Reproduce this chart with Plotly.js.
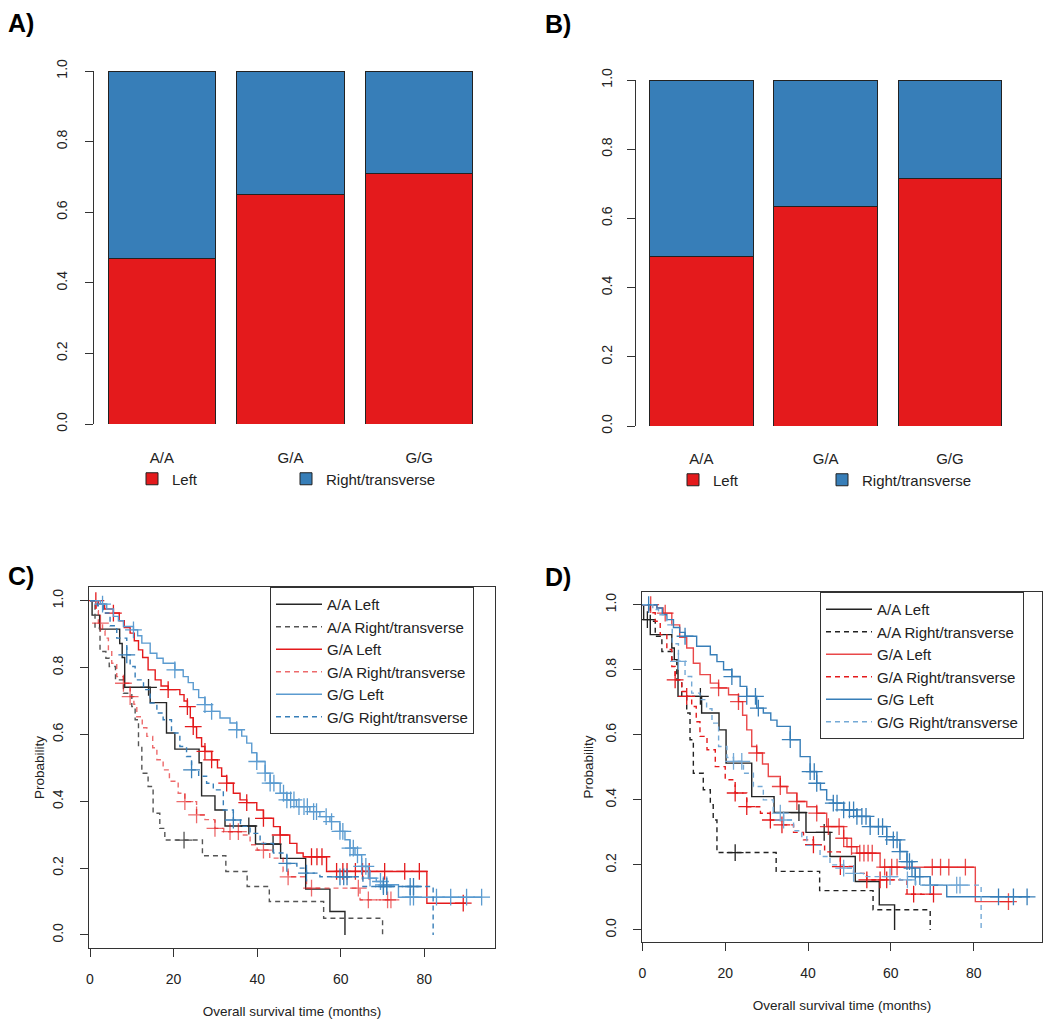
<!DOCTYPE html>
<html>
<head>
<meta charset="utf-8">
<script src="https://cdn.plot.ly/plotly-3.0.1.min.js"></script>
<style>
  html, body { margin: 0; padding: 0; background: #fff; }
  #chart { width: 1050px; height: 1029px; }
</style>
</head>
<body>
<div id="chart"></div>
<script>
// genotype groups on the bar panels
var genotypes = ['A/A', 'G/A', 'G/G'];

// A) share of left vs right/transverse tumours per genotype
var leftA = [0.47, 0.65, 0.71];
var rightA = [0.53, 0.35, 0.29];
// B) second cohort
var leftB = [0.49, 0.635, 0.715];
var rightB = [0.51, 0.365, 0.285];

var survTicks = [0, 20, 40, 60, 80];
var probTicks = [0, 0.2, 0.4, 0.6, 0.8, 1.0];

// C) Kaplan-Meier steps (time in months, survival) and censoring times
var cAALeftT = [0, 0.5, 2.3, 7.1, 7.7, 8.3, 14.4, 18.3, 20.3, 26.1, 26.7, 29.9, 32.3, 39.6, 45.6, 51.6, 57.4, 61.0];
var cAALeftS = [1, 0.957, 0.915, 0.872, 0.83, 0.741, 0.695, 0.604, 0.556, 0.515, 0.416, 0.374, 0.326, 0.272, 0.229, 0.137, 0.07, 0.0];
var cAALeftCens = [14.0, 38.0, 43.8];

var cAARightT = [0, 1.2, 2.4, 3.8, 4.6, 6.1, 8.0, 10.0, 10.8, 11.6, 12.4, 13.9, 15.1, 16.7, 17.9, 26.9, 32.5, 37.6, 42.9, 55.9, 70.0];
var cAARightS = [1, 0.918, 0.848, 0.828, 0.803, 0.763, 0.723, 0.683, 0.644, 0.564, 0.484, 0.444, 0.364, 0.319, 0.284, 0.237, 0.19, 0.145, 0.1, 0.05, 0.0];
var cAARightCens = [22.5];

var cGALeftT = [0, 2.0, 3.5, 5.6, 7.0, 8.2, 9.6, 10.6, 11.6, 12.6, 13.9, 15.6, 17.0, 18.7, 21.5, 22.5, 23.3, 24.0, 24.7, 25.5, 26.7, 27.5, 29.1, 30.5, 31.5, 32.7, 34.3, 35.9, 37.5, 39.9, 41.5, 43.9, 45.5, 47.8, 49.5, 51.0, 56.6, 80.6, 90.1];
var cGALeftS = [1, 0.99, 0.975, 0.963, 0.94, 0.92, 0.903, 0.88, 0.853, 0.83, 0.793, 0.763, 0.745, 0.734, 0.719, 0.70, 0.683, 0.65, 0.623, 0.59, 0.564, 0.549, 0.524, 0.50, 0.475, 0.454, 0.424, 0.404, 0.396, 0.374, 0.349, 0.324, 0.299, 0.274, 0.245, 0.234, 0.19, 0.095, 0.095];
var cGALeftCens = [1.4, 5.6, 18.7, 23.3, 24.7, 27.5, 29.1, 32.7, 37.5, 41.5, 45.5, 53.0, 54.3, 55.5, 59.0, 60.5, 61.5, 63.5, 65.2, 66.8, 70.5, 75.3, 78.8, 89.3];

var cGARightT = [0, 1.5, 2.0, 3.0, 3.6, 4.4, 5.2, 6.4, 8.0, 9.6, 10.5, 11.2, 12.5, 13.6, 15.0, 16.0, 17.5, 19.0, 21.1, 22.7, 25.5, 27.5, 29.9, 32.0, 36.7, 38.3, 40.0, 43.0, 46.2, 47.4, 51.8, 64.6, 72.2];
var cGARightS = [1, 0.97, 0.933, 0.91, 0.888, 0.85, 0.813, 0.773, 0.753, 0.713, 0.69, 0.653, 0.62, 0.594, 0.56, 0.524, 0.494, 0.46, 0.424, 0.399, 0.359, 0.345, 0.319, 0.309, 0.299, 0.27, 0.254, 0.23, 0.19, 0.174, 0.14, 0.105, 0.105];
var cGARightCens = [2.5, 8.0, 9.6, 22.7, 25.5, 29.9, 33.5, 35.5, 41.5, 47.4, 53.0, 64.2, 66.6, 71.2, 72.0];

var cGGLeftT = [0, 2.5, 4.0, 5.6, 6.8, 8.0, 10.4, 11.4, 12.4, 14.4, 16.0, 17.5, 20.3, 22.3, 23.5, 24.7, 26.0, 27.5, 29.1, 31.1, 33.5, 35.1, 36.3, 37.5, 38.7, 39.9, 41.9, 43.1, 45.5, 47.1, 49.4, 52.6, 55.0, 57.4, 59.8, 61.0, 62.2, 63.4, 65.0, 66.6, 68.5, 70.2, 73.8, 93.7];
var cGGLeftS = [1, 0.99, 0.975, 0.953, 0.94, 0.923, 0.913, 0.895, 0.873, 0.843, 0.828, 0.813, 0.793, 0.773, 0.755, 0.734, 0.71, 0.689, 0.669, 0.649, 0.634, 0.614, 0.595, 0.574, 0.545, 0.519, 0.484, 0.454, 0.424, 0.404, 0.384, 0.369, 0.354, 0.339, 0.31, 0.285, 0.26, 0.24, 0.205, 0.17, 0.16, 0.15, 0.113, 0.113];
var cGGLeftCens = [3.0, 10.4, 20.3, 27.5, 29.1, 35.1, 39.9, 41.9, 43.1, 44.0, 46.3, 47.1, 48.0, 48.8, 50.0, 51.2, 52.0, 53.5, 54.2, 56.5, 57.8, 59.8, 60.5, 62.2, 63.0, 64.0, 65.0, 66.0, 67.0, 69.5, 70.2, 71.0, 76.6, 77.4, 82.9, 86.3, 90.1, 93.7];

var cGGRightT = [0, 1.8, 3.2, 4.8, 6.4, 8.8, 9.6, 10.8, 12.8, 14.4, 16.0, 17.5, 19.5, 21.5, 23.1, 24.3, 26.0, 27.9, 29.5, 31.9, 34.3, 36.0, 38.3, 40.7, 43.9, 47.1, 49.5, 51.8, 55.0, 65.3, 82.1];
var cGGRightS = [1, 0.985, 0.963, 0.925, 0.888, 0.838, 0.803, 0.763, 0.734, 0.694, 0.664, 0.644, 0.604, 0.564, 0.534, 0.494, 0.475, 0.454, 0.434, 0.374, 0.344, 0.325, 0.304, 0.274, 0.245, 0.214, 0.2, 0.185, 0.174, 0.145, 0.0];
var cGGRightCens = [8.8, 24.3, 34.3, 47.1, 51.8, 59.8, 60.7, 61.5, 70.2, 71.0, 76.6, 77.4];

// D) second cohort
var dAALeftT = [0, 0.3, 1.9, 7.1, 7.7, 8.6, 14.3, 18.5, 20.2, 26.4, 31.8, 39.5, 45.3, 51.4, 57.2, 60.9];
var dAALeftS = [1, 0.954, 0.908, 0.867, 0.831, 0.718, 0.667, 0.615, 0.513, 0.41, 0.361, 0.3, 0.226, 0.149, 0.077, 0.0];
var dAALeftCens = [1.2, 14.0, 37.8, 43.9];

var dAARightT = [0, 1.9, 3.1, 4.7, 7.1, 8.3, 9.5, 10.7, 11.5, 12.3, 14.7, 16.4, 17.1, 18.0, 32.3, 42.8, 55.7, 69.5];
var dAARightS = [1, 0.949, 0.903, 0.856, 0.831, 0.769, 0.72, 0.667, 0.585, 0.482, 0.431, 0.385, 0.338, 0.238, 0.18, 0.121, 0.062, 0.0];
var dAARightCens = [22.4];

var dGALeftT = [0, 3.5, 5.0, 7.1, 9.0, 10.7, 12.3, 13.9, 16.4, 18.4, 20.8, 23.2, 24.2, 25.2, 26.4, 27.6, 29.0, 30.4, 33.3, 34.9, 37.3, 39.7, 42.1, 44.5, 48.6, 49.4, 51.8, 57.4, 80.4, 89.2];
var dGALeftS = [1, 0.99, 0.974, 0.938, 0.9, 0.867, 0.82, 0.785, 0.759, 0.744, 0.723, 0.702, 0.66, 0.615, 0.564, 0.544, 0.51, 0.472, 0.441, 0.421, 0.395, 0.379, 0.359, 0.318, 0.282, 0.256, 0.236, 0.193, 0.087, 0.087];
var dGALeftCens = [2.0, 5.5, 18.4, 23.2, 27.6, 33.3, 37.3, 42.1, 44.9, 47.5, 48.6, 50.5, 52.5, 53.5, 54.5, 55.5, 58.5, 60.2, 61.5, 70.0, 72.0, 74.0, 78.0, 88.4];

var dGARightT = [0, 1.5, 3.1, 4.3, 5.9, 7.1, 7.9, 9.5, 10.7, 11.9, 13.0, 13.9, 15.6, 17.6, 20.0, 22.4, 25.2, 28.5, 30.9, 33.7, 36.5, 38.9, 41.3, 44.0, 47.8, 51.0, 54.2, 63.9, 71.1];
var dGARightS = [1, 0.975, 0.949, 0.908, 0.862, 0.81, 0.769, 0.733, 0.718, 0.687, 0.64, 0.595, 0.554, 0.502, 0.462, 0.421, 0.379, 0.359, 0.338, 0.323, 0.3, 0.277, 0.262, 0.24, 0.195, 0.174, 0.154, 0.11, 0.11];
var dGARightCens = [7.9, 10.7, 22.4, 25.2, 30.9, 33.7, 41.3, 47.8, 54.2, 57.4, 59.0, 65.5, 70.3];

var dGGLeftT = [0, 3.5, 4.8, 5.9, 7.5, 9.0, 10.3, 13.1, 16.4, 18.0, 19.6, 21.6, 23.6, 25.2, 27.6, 29.2, 31.0, 32.5, 35.7, 38.1, 40.5, 42.1, 43.0, 44.5, 46.1, 48.6, 51.8, 55.0, 59.0, 60.6, 62.2, 63.9, 65.1, 65.9, 69.5, 73.5, 93.6];
var dGGLeftS = [1, 0.99, 0.97, 0.954, 0.93, 0.915, 0.903, 0.872, 0.846, 0.825, 0.8, 0.779, 0.749, 0.718, 0.682, 0.667, 0.645, 0.626, 0.585, 0.533, 0.487, 0.451, 0.431, 0.4, 0.39, 0.369, 0.349, 0.318, 0.287, 0.277, 0.241, 0.21, 0.19, 0.164, 0.138, 0.102, 0.102];
var dGGLeftCens = [1.5, 10.3, 21.6, 25.2, 27.3, 28.0, 35.7, 40.5, 41.5, 42.1, 46.1, 47.0, 48.6, 50.0, 51.0, 51.8, 53.0, 54.0, 55.0, 57.0, 58.0, 59.0, 60.6, 61.5, 62.2, 63.9, 64.5, 65.1, 65.9, 67.0, 69.5, 86.0, 89.6, 92.9];

var dGGRightT = [0, 2.5, 3.9, 5.9, 7.2, 8.7, 10.3, 11.9, 13.9, 15.5, 16.8, 18.4, 20.4, 22.0, 24.4, 26.8, 29.2, 31.6, 34.1, 36.5, 38.5, 39.7, 42.9, 45.3, 48.6, 51.0, 53.4, 62.2, 66.0, 81.8];
var dGGRightS = [1, 0.985, 0.969, 0.938, 0.88, 0.826, 0.779, 0.728, 0.708, 0.68, 0.636, 0.564, 0.53, 0.518, 0.482, 0.441, 0.4, 0.359, 0.338, 0.305, 0.287, 0.26, 0.226, 0.2, 0.19, 0.174, 0.164, 0.154, 0.138, 0.0];
var dGGRightCens = [8.7, 22.0, 24.0, 33.3, 34.1, 48.6, 51.0, 59.8, 64.0, 75.9, 76.7];

var W = 1050, H = 1029;
function px(x) { return x / W; }
function py(y) { return 1 - y / H; }

var RED = '#E41A1C', BLUE = '#377EB8';
var DASH = '5px,4px';

// survival value in force at time t (for placing censor marks)
function stepValue(ts, ss, t) {
  var v = ss[0];
  for (var i = 0; i < ts.length; i++) {
    if (ts[i] <= t) v = ss[i];
  }
  return v;
}

function survTraces(ts, ss, cens, name, color, dash, xa, ya, leg) {
  var line = {
    x: ts, y: ss, mode: 'lines', name: name,
    line: {shape: 'hv', color: color, width: 1.4, dash: dash},
    xaxis: xa, yaxis: ya, legend: leg, hoverinfo: 'skip'
  };
  var marks = {
    x: cens,
    y: cens.map(function(t) { return stepValue(ts, ss, t); }),
    mode: 'markers', showlegend: false,
    marker: {symbol: 'cross-thin', size: 12, color: color, line: {color: color, width: 1.3}},
    xaxis: xa, yaxis: ya, hoverinfo: 'skip'
  };
  return [line, marks];
}

function barTraces(left, right, xa, ya, leg) {
  return [
    {x: genotypes, y: left, type: 'bar', name: 'Left', marker: {color: RED, line: {color: '#222', width: 1}},
     xaxis: xa, yaxis: ya, legend: leg, hoverinfo: 'skip'},
    {x: genotypes, y: right, type: 'bar', name: 'Right/transverse', marker: {color: BLUE, line: {color: '#222', width: 1}},
     xaxis: xa, yaxis: ya, legend: leg, hoverinfo: 'skip'}
  ];
}

var traces = [].concat(
  barTraces(leftA, rightA, 'x', 'y', 'legend'),
  barTraces(leftB, rightB, 'x2', 'y2', 'legend2'),
  survTraces(cAALeftT, cAALeftS, cAALeftCens, 'A/A Left', '#262626', 'solid', 'x3', 'y3', 'legend3'),
  survTraces(cAARightT, cAARightS, cAARightCens, 'A/A Right/transverse', '#555555', DASH, 'x3', 'y3', 'legend3'),
  survTraces(cGALeftT, cGALeftS, cGALeftCens, 'G/A Left', RED, 'solid', 'x3', 'y3', 'legend3'),
  survTraces(cGARightT, cGARightS, cGARightCens, 'G/A Right/transverse', 'rgba(228,26,28,0.65)', DASH, 'x3', 'y3', 'legend3'),
  survTraces(cGGLeftT, cGGLeftS, cGGLeftCens, 'G/G Left', '#5B9BD0', 'solid', 'x3', 'y3', 'legend3'),
  survTraces(cGGRightT, cGGRightS, cGGRightCens, 'G/G Right/transverse', BLUE, DASH, 'x3', 'y3', 'legend3'),
  survTraces(dAALeftT, dAALeftS, dAALeftCens, 'A/A Left', '#222222', 'solid', 'x4', 'y4', 'legend4'),
  survTraces(dAARightT, dAARightS, dAARightCens, 'A/A Right/transverse', '#222222', DASH, 'x4', 'y4', 'legend4'),
  survTraces(dGALeftT, dGALeftS, dGALeftCens, 'G/A Left', 'rgba(228,26,28,0.8)', 'solid', 'x4', 'y4', 'legend4'),
  survTraces(dGARightT, dGARightS, dGARightCens, 'G/A Right/transverse', RED, DASH, 'x4', 'y4', 'legend4'),
  survTraces(dGGLeftT, dGGLeftS, dGGLeftCens, 'G/G Left', BLUE, 'solid', 'x4', 'y4', 'legend4'),
  survTraces(dGGRightT, dGGRightS, dGGRightCens, 'G/G Right/transverse', '#74A9D6', DASH, 'x4', 'y4', 'legend4')
);

var tickFont = {size: 14, color: '#222'};
var catFont = {size: 15, color: '#222'};

function barY(dom, anchor, standoff) {
  return {
    domain: dom, anchor: anchor, range: [0, 1], tickvals: probTicks, tickformat: '.1f', tickangle: -90,
    ticks: 'outside', ticklen: 8, tickcolor: '#333', showline: true, linecolor: '#333', linewidth: 1,
    showgrid: false, zeroline: false, ticklabelstandoff: standoff, tickfont: tickFont
  };
}
function barX(dom, anchor, standoff) {
  return {
    domain: dom, anchor: anchor, type: 'category', range: [-0.527, 2.5], showline: false, ticks: '',
    showgrid: false, zeroline: false, ticklabelstandoff: standoff, tickfont: catFont
  };
}
function survX(dom, anchor, range) {
  return {
    domain: dom, anchor: anchor, range: range, tickvals: survTicks, ticks: 'outside', ticklen: 8,
    tickcolor: '#333', showline: true, mirror: true, linecolor: '#333', linewidth: 1, showgrid: false,
    zeroline: false, ticklabelstandoff: 10, tickfont: tickFont,
    title: {text: 'Overall survival time (months)', font: {size: 13.5, color: '#222'}, standoff: 20}
  };
}
function survY(dom, anchor, range, standoff) {
  return {
    domain: dom, anchor: anchor, range: range, tickvals: probTicks, tickformat: '.1f', tickangle: -90,
    ticks: 'outside', ticklen: 8, tickcolor: '#333', showline: true, mirror: true, linecolor: '#333',
    linewidth: 1, showgrid: false, zeroline: false, ticklabelstandoff: 11, tickfont: tickFont,
    title: {text: 'Probability', font: {size: 13.5, color: '#222'}, standoff: standoff}
  };
}
function barLegend(x, y, w) {
  return {orientation: 'h', x: x, y: y, xanchor: 'left', yanchor: 'middle', entrywidth: w,
          font: {size: 15, color: '#222'}, bgcolor: 'rgba(0,0,0,0)', traceorder: 'normal'};
}
function survLegend(x, y) {
  return {x: x, y: y, xanchor: 'left', yanchor: 'top', bordercolor: '#333', borderwidth: 1,
          bgcolor: 'white', font: {size: 15, color: '#222'}, itemwidth: 46, tracegroupgap: 0,
          traceorder: 'normal'};
}
function panelLabel(text, x, y) {
  return {text: '<b>' + text + '</b>', x: x, y: y, xref: 'paper', yref: 'paper', xanchor: 'left',
          yanchor: 'middle', showarrow: false, font: {size: 25, color: '#000'}};
}

var layout = {
  width: W, height: H, margin: {l: 0, r: 0, t: 0, b: 0},
  paper_bgcolor: 'white', plot_bgcolor: 'white',
  font: {family: 'Liberation Sans, Arial, sans-serif', size: 13, color: '#222'},
  barmode: 'stack', bargap: 0.165,
  xaxis: barX([px(94), px(483.5)], 'y', 23),
  yaxis: barY([py(424), py(71)], 'x', 12),
  xaxis2: barX([px(636), px(1012)], 'y2', 22),
  yaxis2: barY([py(426), py(80)], 'x2', 9),
  xaxis3: survX([px(89), px(495)], 'y3', [-0.24, 96.9]),
  yaxis3: survY([py(948), py(587)], 'x3', [-0.039, 1.041], 2),
  xaxis4: survX([px(642), px(1042)], 'y4', [-0.1, 96.5]),
  yaxis4: survY([py(942), py(592)], 'x4', [-0.037, 1.039], 6),
  legend: barLegend(px(132), py(479), 109),
  legend2: barLegend(px(673), py(480), 104),
  legend3: survLegend(px(270), py(587)),
  legend4: survLegend(px(820), py(592)),
  annotations: [
    panelLabel('A)', px(6), py(23)),
    panelLabel('B)', px(543), py(24)),
    panelLabel('C)', px(6), py(576)),
    panelLabel('D)', px(543), py(577))
  ]
};

Plotly.newPlot('chart', traces, layout, {displayModeBar: false, staticPlot: true});
</script>
</body>
</html>
